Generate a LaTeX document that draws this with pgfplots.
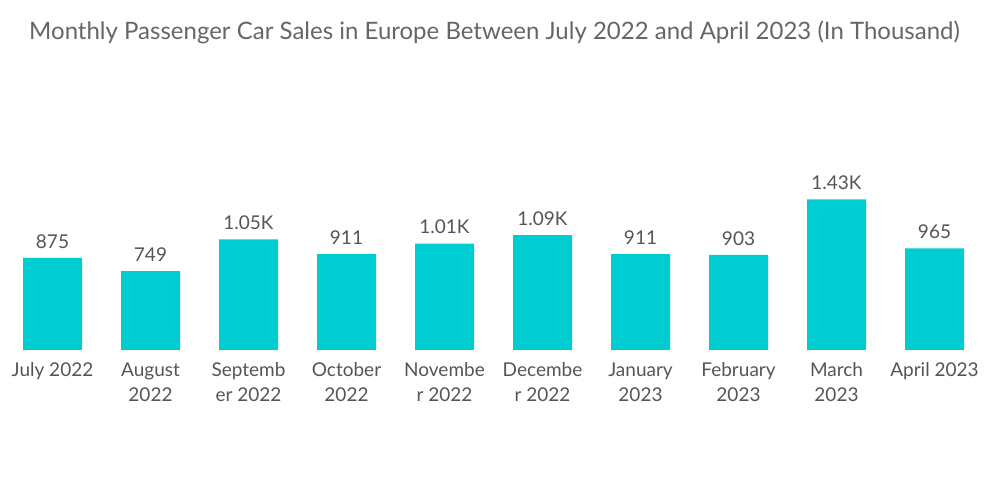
\documentclass[border=0pt]{standalone}
\usepackage{pgfplots}
\pgfplotsset{compat=1.18}
\usepackage{pgfplotstable}
\usepackage{fontspec}
\setmainfont{Lato}
\definecolor{barc}{HTML}{00CDD1}
\definecolor{txt}{HTML}{555555}
\definecolor{ttl}{HTML}{666666}
\pgfplotstableread{
x y lab
0 875 875
1 749 749
2 1050 1.05K
3 911 911
4 1010 1.01K
5 1090 1.09K
6 911 911
7 903 903
8 1430 1.43K
9 965 965
}\data
\begin{document}
\begin{tikzpicture}[x=1bp,y=1bp]
\path[use as bounding box] (0,0) rectangle (1000,504);
\node[anchor=base, text=ttl, font=\fontsize{24bp}{28bp}\selectfont] at (494.5,464) {Monthly Passenger Car Sales in Europe Between July 2022 and April 2023 (In Thousand)};
\begin{axis}[
  at={(52.5bp,154bp)}, anchor=origin,
  scale only axis, width=980bp, height=158bp,
  xmin=-0.5, xmax=9.5, ymin=0, ymax=1500,
  axis line style={draw=none}, ytick=\empty,
  xtick=data, major tick length=0pt,
  xticklabels={July 2022,August\\2022,Septemb\\er 2022,October\\2022,Novembe\\r 2022,Decembe\\r 2022,January\\2023,February\\2023,March\\2023,April 2023},
  xticklabel style={align=center, text=txt, font=\fontsize{19bp}{25bp}\selectfont, anchor=north, yshift=-9bp},
  clip=false,
  nodes near coords={\pgfplotspointmeta},
  point meta=explicit symbolic,
  nodes near coords style={text=txt, font=\fontsize{19bp}{22bp}\selectfont, anchor=south, yshift=6bp},
]
\addplot[ybar, bar width=59bp, fill=barc, draw=none] table[x=x, y=y, meta=lab] {\data};
\end{axis}
\end{tikzpicture}
\end{document}
